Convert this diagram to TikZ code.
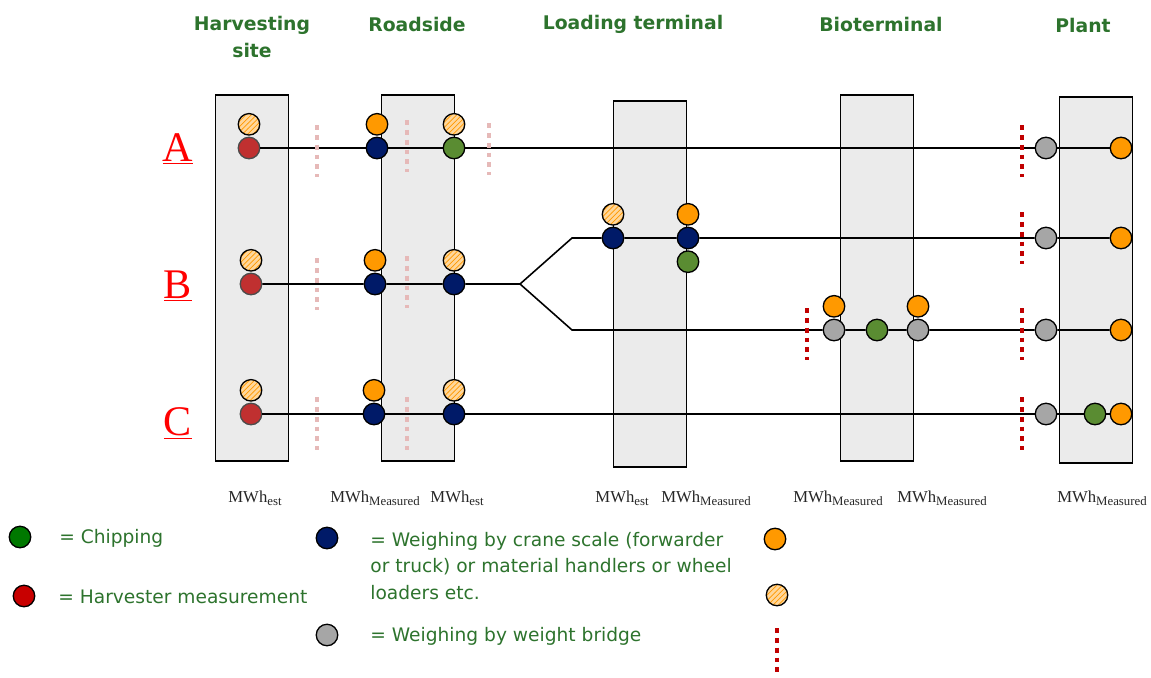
\documentclass[tikz,border=0pt]{standalone}
\usepackage{fontspec}
\setmainfont{Liberation Serif}
\newfontfamily\headfont{DejaVu Sans}
\usetikzlibrary{positioning,patterns}

\definecolor{boxgray}{RGB}{235,235,235}
\definecolor{sitegreen}{RGB}{45,115,45}
\definecolor{dotred}{RGB}{192,48,48}
\definecolor{dotnavy}{RGB}{0,26,104}
\definecolor{dotgreen}{RGB}{90,140,50}
\definecolor{dotgray}{RGB}{166,166,166}
\definecolor{dotorange}{RGB}{255,153,0}
\definecolor{hatchbg}{RGB}{255,215,155}
\definecolor{chipgreen}{RGB}{0,120,0}
\definecolor{harvred}{RGB}{200,0,0}
\definecolor{cutred}{RGB}{192,0,0}
\definecolor{cutpink}{RGB}{230,185,184}

\newcommand{\mwh}[1]{MWh\raisebox{-0.45ex}{\fontsize{7.3}{7.3}\selectfont #1}}

\tikzset {
    style box/.style={
        fill=boxgray,
        draw=black,
        line width=0.8pt,
        rectangle, % Set the shape as a rectangle
        minimum width=1.46cm,
        minimum height=7.32cm,
        inner sep=0pt,
    },
    style dot/.style={
        circle,
        draw=black,
        line width=0.75pt,
        minimum size=0.43cm,
        inner sep=0pt,
    },
    style red/.style={style dot, fill=dotred, draw=black!70},
    style navy/.style={style dot, fill=dotnavy},
    style green/.style={style dot, fill=dotgreen},
    style gray/.style={style dot, fill=dotgray},
    style orange/.style={style dot, fill=dotorange},
    style hatch/.style={
        style dot,
        preaction={fill=hatchbg},
        pattern=north east lines,
        pattern color=dotorange,
    },
    style head/.style={
        font=\headfont\bfseries\fontsize{10.7}{15.3}\selectfont,
        text=sitegreen,
        align=center,
    },
    style legend/.style={
        font=\headfont\fontsize{10.6}{15.3}\selectfont,
        text=sitegreen,
        align=left,
        anchor=west,
        inner sep=0pt,
    },
    style row/.style={
        font=\fontsize{24}{24}\selectfont,
        text=red,
        anchor=base,
    },
    style unit/.style={
        font=\fontsize{9.5}{9.5}\selectfont,
        text=black!85,
        anchor=base,
    },
    style line/.style={draw=black, line width=0.9pt},
    style pink/.style={draw=cutpink, line width=2.8pt, dash pattern=on 2.8pt off 2.8pt},
    style cut/.style={draw=cutred, line width=2.8pt, dash pattern=on 2.8pt off 2.8pt},
}

\begin{document}
\begin{tikzpicture}[x=0.02cm, y=-0.02cm]
        \useasboundingbox (0,0) rectangle (1151,677);

        % sites
        \node[style head] (hdHarv) at (252,37) {Harvesting\\site};
        \node[style head] (hdRoad) at (417,24) {Roadside};
        \node[style head] (hdLoad) at (633,24) {Loading terminal};
        \node[style head] (hdBio) at (881,24) {Bioterminal};
        \node[style head] (hdPlant) at (1083,25) {Plant};

        \node[style box] (harv) at (252,278) {};
        \node[style box] (road) at (418,278) {};
        \node[style box] (load) at (650,284) {};
        \node[style box] (bio) at (877,278) {};
        \node[style box] (plant) at (1096,280) {};

        % chains
        \node[style row] (rowA) at (178,161) {\underline{A}};
        \node[style row] (rowB) at (178,298) {\underline{B}};
        \node[style row] (rowC) at (178,435) {\underline{C}};

        % chain A
        \node[style red] (hvA) at (249,148) {};
        \node[style hatch, above=0.5pt of hvA] (hvAe) {};
        \node[style navy] (rdA1) at (377,148) {};
        \node[style orange, above=0.5pt of rdA1] (rdA1m) {};
        \node[style green] (rdA2) at (454,148) {};
        \node[style hatch, above=0.5pt of rdA2] (rdA2e) {};
        \node[style gray] (plA1) at (1046,148) {};
        \node[style orange] (plA2) at (1121,148) {};

        % chain B
        \node[style red] (hvB) at (251,284) {};
        \node[style hatch, above=0.5pt of hvB] (hvBe) {};
        \node[style navy] (rdB1) at (375,284) {};
        \node[style orange, above=0.5pt of rdB1] (rdB1m) {};
        \node[style navy] (rdB2) at (454,284) {};
        \node[style hatch, above=0.5pt of rdB2] (rdB2e) {};
        \coordinate (fork) at (520,284);
        \coordinate (forkUp) at (572,238);
        \coordinate (forkDn) at (572,330);
        \node[style navy] (ltB1) at (613,238) {};
        \node[style hatch, above=0.5pt of ltB1] (ltB1e) {};
        \node[style navy] (ltB2) at (688,238) {};
        \node[style orange, above=0.5pt of ltB2] (ltB2m) {};
        \node[style green, below=0.5pt of ltB2] (ltB2c) {};
        \node[style gray] (plB1) at (1046,238) {};
        \node[style orange] (plB2) at (1121,238) {};
        \node[style gray] (btB1) at (834,330) {};
        \node[style orange, above=0.5pt of btB1] (btB1m) {};
        \node[style green] (btB2) at (877,330) {};
        \node[style gray] (btB3) at (918,330) {};
        \node[style orange, above=0.5pt of btB3] (btB3m) {};
        \node[style gray] (plB3) at (1046,330) {};
        \node[style orange] (plB4) at (1121,330) {};

        % chain C
        \node[style red] (hvC) at (251,414) {};
        \node[style hatch, above=0.5pt of hvC] (hvCe) {};
        \node[style navy] (rdC1) at (374,414) {};
        \node[style orange, above=0.5pt of rdC1] (rdC1m) {};
        \node[style navy] (rdC2) at (454,414) {};
        \node[style hatch, above=0.5pt of rdC2] (rdC2e) {};
        \node[style gray] (plC1) at (1046,414) {};
        \node[style green] (plC2) at (1095,414) {};
        \node[style orange] (plC3) at (1121,414) {};

        \draw[style line] (hvA) -- (rdA1) -- (rdA2) -- (plA1) -- (plA2);
        \draw[style line] (hvB) -- (rdB1) -- (rdB2) -- (fork) -- (forkUp) -- (ltB1) -- (ltB2) -- (plB1) -- (plB2);
        \draw[style line] (fork) -- (forkDn) -- (btB1) -- (btB2) -- (btB3) -- (plB3) -- (plB4);
        \draw[style line] (hvC) -- (rdC1) -- (rdC2) -- (plC1) -- (plC2) -- (plC3);

        % estimated / measured cuts
        \draw[style pink] (317,125) -- (317,177);
        \draw[style pink] (407,120) -- (407,172);
        \draw[style pink] (489,123) -- (489,175);
        \draw[style pink] (317,258) -- (317,310);
        \draw[style pink] (407,256) -- (407,308);
        \draw[style pink] (317,397) -- (317,450);
        \draw[style pink] (407,397) -- (407,450);
        \draw[style cut] (1022,125) -- (1022,177);
        \draw[style cut] (1022,212) -- (1022,264);
        \draw[style cut] (807,308) -- (807,360);
        \draw[style cut] (1022,308) -- (1022,360);
        \draw[style cut] (1022,397) -- (1022,450);

        % energy units
        \node[style unit] (unHv) at (255,502) {\mwh{est}};
        \node[style unit] (unRd1) at (375,502) {\mwh{Measured}};
        \node[style unit] (unRd2) at (457,502) {\mwh{est}};
        \node[style unit] (unLt1) at (622,502) {\mwh{est}};
        \node[style unit] (unLt2) at (706,502) {\mwh{Measured}};
        \node[style unit] (unBt1) at (838,502) {\mwh{Measured}};
        \node[style unit] (unBt2) at (942,502) {\mwh{Measured}};
        \node[style unit] (unPl) at (1102,502) {\mwh{Measured}};

        % legend
        \node[style dot, fill=chipgreen] (lgChip) at (20,537) {};
        \node[style legend] (txChip) at (59,538) {= Chipping};
        \node[style dot, fill=harvred] (lgHarv) at (24,596) {};
        \node[style legend] (txHarv) at (58,597) {= Harvester measurement};
        \node[style navy] (lgCrane) at (327,538) {};
        \node[style legend] (txCrane) at (370,566) {= Weighing by crane scale (forwarder\\or truck) or material handlers or wheel\\loaders etc.};
        \node[style gray] (lgBridge) at (327,635) {};
        \node[style legend] (txBridge) at (370,636) {= Weighing by weight bridge};
        \node[style orange] (lgMeas) at (775,539) {};
        \node[style hatch] (lgEst) at (777,595) {};
        \draw[style cut] (777,628) -- (777,672);

\end{tikzpicture}
\end{document}
